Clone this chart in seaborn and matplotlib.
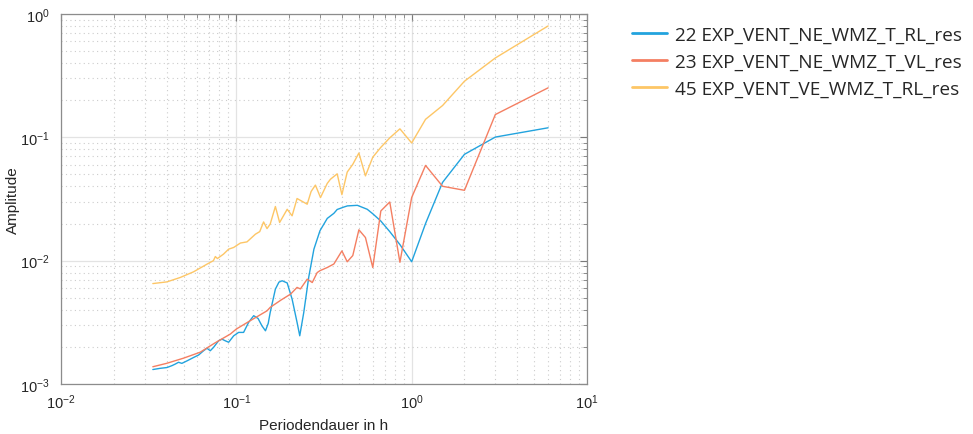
import matplotlib
matplotlib.use("Agg")
import matplotlib.pyplot as plt
import matplotlib.ticker as mticker
import numpy as np
import pandas as pd
import seaborn as sns

# Periods in hours and spectral amplitudes of the three residual signals
period_rl_ne = [0.0334, 0.0368, 0.0402, 0.043, 0.0448, 0.0468, 0.0489, 0.0523, 0.057,
                0.061, 0.065, 0.068, 0.071, 0.0741, 0.0792, 0.0828, 0.0865, 0.0904,
                0.0966, 0.103, 0.110, 0.1175, 0.1256, 0.133, 0.140, 0.1466, 0.152,
                0.156, 0.167, 0.175, 0.1825, 0.195, 0.208, 0.222, 0.230, 0.2424,
                0.259, 0.277, 0.300, 0.330, 0.360, 0.376, 0.410, 0.430, 0.490,
                0.558, 0.600, 0.666, 0.750, 0.857, 1.0, 1.2, 1.5, 2.0, 3.0, 6.0]
amp_rl_ne = [0.00131, 0.00134, 0.00136, 0.00141, 0.00145, 0.00150, 0.00147, 0.00154, 0.00164,
             0.00172, 0.00186, 0.00195, 0.00186, 0.00198, 0.00224, 0.00231, 0.00224, 0.00218,
             0.00246, 0.00262, 0.00262, 0.00316, 0.00358, 0.00340, 0.00296, 0.00270, 0.00310,
             0.00380, 0.00588, 0.00670, 0.00687, 0.00660, 0.00488, 0.00316, 0.00246, 0.00380,
             0.00740, 0.01240, 0.01750, 0.02200, 0.02420, 0.02600, 0.02720, 0.02780, 0.02810,
             0.02610, 0.02400, 0.02100, 0.01720, 0.01350, 0.00980, 0.0200, 0.0431, 0.0728, 0.1005, 0.1195]

period_vl_ne = [0.0334, 0.040, 0.050, 0.0622, 0.075, 0.0924, 0.100, 0.120, 0.1496, 0.156,
                0.180, 0.204, 0.222, 0.232, 0.2536, 0.271, 0.289, 0.300, 0.330, 0.360,
                0.400, 0.429, 0.4615, 0.500, 0.545, 0.600, 0.667, 0.750, 0.857, 1.0,
                1.2, 1.5, 2.0, 3.0, 6.0]
amp_vl_ne = [0.00138, 0.00147, 0.00162, 0.00181, 0.00214, 0.00254, 0.00279, 0.00326, 0.00392, 0.00418,
             0.00480, 0.00536, 0.00607, 0.00590, 0.00708, 0.00665, 0.00800, 0.00830, 0.00880, 0.00940,
             0.01200, 0.00980, 0.01100, 0.01780, 0.01540, 0.00880, 0.02530, 0.02990, 0.00970, 0.03250,
             0.0592, 0.0401, 0.0372, 0.1530, 0.2520]

period_rl_ve = [0.0334, 0.0402, 0.0479, 0.057, 0.068, 0.074, 0.0759, 0.078, 0.0845, 0.0904,
                0.0966, 0.1055, 0.115, 0.1285, 0.136, 0.143, 0.1496, 0.156, 0.167, 0.1766,
                0.195, 0.208, 0.222, 0.240, 0.2536, 0.267, 0.2825, 0.302, 0.330, 0.344,
                0.376, 0.400, 0.429, 0.4615, 0.500, 0.545, 0.600, 0.667, 0.750, 0.857,
                1.0, 1.2, 1.5, 2.0, 3.0, 6.0]
amp_rl_ve = [0.00652, 0.00673, 0.00731, 0.00812, 0.00937, 0.0100, 0.0108, 0.0104, 0.0113, 0.0124,
             0.0128, 0.0139, 0.0142, 0.0164, 0.0172, 0.0206, 0.0182, 0.0198, 0.0275, 0.0204,
             0.0261, 0.0231, 0.0319, 0.0300, 0.0287, 0.0364, 0.0410, 0.0325, 0.0423, 0.0457,
             0.0506, 0.0343, 0.0523, 0.0604, 0.0746, 0.0487, 0.0690, 0.0830, 0.0990, 0.1172,
             0.0900, 0.1400, 0.1810, 0.2850, 0.4400, 0.8000]

labels = ["22 EXP_VENT_NE_WMZ_T_RL_res",
          "23 EXP_VENT_NE_WMZ_T_VL_res",
          "45 EXP_VENT_VE_WMZ_T_RL_res"]
colors = ["#22A3DE", "#F47F62", "#FDC666"]

frames = []
for lab, per, amp in zip(labels,
                         [period_rl_ne, period_vl_ne, period_rl_ve],
                         [amp_rl_ne, amp_vl_ne, amp_rl_ve]):
    frames.append(pd.DataFrame({"Periodendauer": per, "Amplitude": amp, "Signal": lab}))
df = pd.concat(frames, ignore_index=True)

sns.set_theme(style="white")
plt.rcParams["font.family"] = ["Liberation Sans", "DejaVu Sans"]
plt.rcParams["mathtext.default"] = "regular"

fig = plt.figure(figsize=(9.73, 4.35), dpi=100)
ax = fig.add_axes([61 / 973, 50 / 435, 526 / 973, 370 / 435])

sns.lineplot(data=df, x="Periodendauer", y="Amplitude", hue="Signal",
             palette=dict(zip(labels, colors)), estimator=None, sort=True,
             linewidth=1.0, ax=ax)

ax.set_xscale("log")
ax.set_yscale("log")
ax.set_xlim(0.01, 10)
ax.set_ylim(0.001, 1)

ax.xaxis.set_major_locator(mticker.LogLocator(base=10, numticks=10))
ax.yaxis.set_major_locator(mticker.LogLocator(base=10, numticks=10))
ax.xaxis.set_minor_locator(mticker.LogLocator(base=10, subs=np.arange(2, 10), numticks=20))
ax.yaxis.set_minor_locator(mticker.LogLocator(base=10, subs=np.arange(2, 10), numticks=20))
ax.xaxis.set_minor_formatter(mticker.NullFormatter())
ax.yaxis.set_minor_formatter(mticker.NullFormatter())

ax.grid(True, which="major", color="#e3e3e3", linewidth=0.9, linestyle="-")
ax.grid(True, which="minor", color="#cccccc", linewidth=0.8, linestyle=(0, (1, 3)))
ax.set_axisbelow(True)

for sp in ax.spines.values():
    sp.set_color("#8c8c8c")
    sp.set_linewidth(0.9)

ax.tick_params(which="both", direction="in", top=True, right=True,
               color="#7a7a7a", labelcolor="#262626", labelsize=10.5)
ax.tick_params(which="major", length=5, width=0.8)
ax.tick_params(which="minor", length=3, width=0.6)
ax.tick_params(axis="x", which="major", pad=6)
ax.tick_params(axis="y", which="major", pad=8)

ax.set_xlabel("Periodendauer in h", fontsize=11, color="#262626", labelpad=5)
ax.set_ylabel("Amplitude", fontsize=11, color="#262626")
ax.yaxis.set_label_coords(-0.078, 0.5)

sns.move_legend(ax, "upper left", bbox_to_anchor=(632 / 973, 1 - 27 / 435),
                bbox_transform=fig.transFigure, frameon=False, title=None,
                borderpad=0, borderaxespad=0, handlelength=1.85, handletextpad=0.42,
                labelspacing=0.46, prop={"family": "Open Sans", "size": 13.7})
leg = ax.get_legend()
for line in leg.get_lines():
    line.set_linewidth(2.0)

fig.savefig("out.png", dpi=100)
